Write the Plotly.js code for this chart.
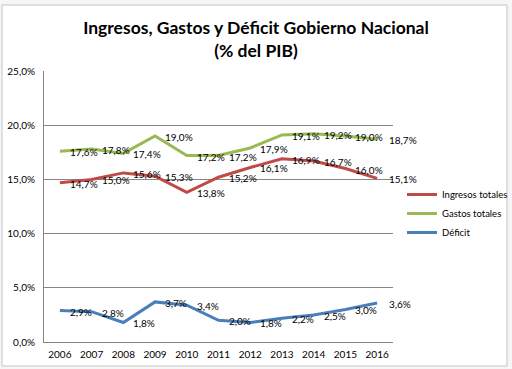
<!DOCTYPE html>
<html>
<head>
<meta charset="utf-8">
<script src="https://cdn.plot.ly/plotly-3.0.1.min.js"></script>
<style>html,body{margin:0;padding:0;background:#fff;}#chart{width:512px;height:369px;}</style>
</head>
<body>
<div id="chart"></div>
<script>
var years = ['2006','2007','2008','2009','2010','2011','2012','2013','2014','2015','2016'];
var ingresos = [14.7, 15.0, 15.6, 15.3, 13.8, 15.2, 16.1, 16.9, 16.7, 16.0, 15.1];
var gastos = [17.6, 17.8, 17.4, 19.0, 17.2, 17.2, 17.9, 19.1, 19.2, 19.0, 18.7];
var deficit = [2.9, 2.8, 1.8, 3.7, 3.4, 2.0, 1.8, 2.2, 2.5, 3.0, 3.6];
var names = ['Ingresos totales', 'Gastos totales', 'Déficit'];
var colors = ['#BE4B48', '#98B954', '#4A7EBB'];
var series = [ingresos, gastos, deficit];

var font = 'Lato, "Liberation Sans", Arial, sans-serif';
var data = series.map(function (y, i) {
  return {
    x: years, y: y, name: names[i], type: 'scatter', mode: 'lines',
    line: {color: colors[i], width: 3}, hoverinfo: 'skip'
  };
});

function fmt(v) { return v.toFixed(1).replace('.', ',') + '%'; }
var annotations = [];
series.forEach(function (y) {
  y.forEach(function (v, j) {
    annotations.push({
      x: j, y: v, xref: 'x', yref: 'y', text: fmt(v),
      showarrow: false, xanchor: 'left', yanchor: 'middle',
      xshift: j === years.length - 1 ? 10 : 8, yshift: -1,
      font: {family: font, size: 10, color: '#000'}
    });
  });
});

var layout = {
  width: 512, height: 369,
  separators: ',.',
  margin: {l: 44, r: 119, t: 71, b: 27, autoexpand: false},
  paper_bgcolor: '#f6f6f6', plot_bgcolor: '#ffffff',
  font: {family: font, size: 10, color: '#000'},
  title: {
    text: 'Ingresos, Gastos y Déficit Gobierno Nacional<br>(% del PIB)',
    font: {family: font, size: 17.5, color: '#000', weight: 'bold'},
    x: 0.5, xref: 'container', xanchor: 'center',
    y: 1 - 34/369, yref: 'container', yanchor: 'top'
  },
  xaxis: {
    type: 'category', range: [-0.5, 10.5],
    showgrid: false, showline: true, linecolor: '#868686', linewidth: 1,
    ticks: 'outside', ticklen: 3, tickcolor: 'rgba(0,0,0,0)',
    tickfont: {family: font, size: 10, color: '#000'}, fixedrange: true
  },
  yaxis: {
    range: [0, 25], dtick: 5, tickformat: '.1f', ticksuffix: '%',
    showgrid: true, gridcolor: '#868686', gridwidth: 1,
    showline: true, linecolor: '#868686', linewidth: 1, zeroline: false,
    ticks: 'outside', ticklen: 6, tickcolor: 'rgba(0,0,0,0)',
    tickfont: {family: font, size: 10, color: '#000'}, fixedrange: true
  },
  legend: {
    xref: 'container', yref: 'container',
    x: 402/512, xanchor: 'left', y: 1 - 180/369, yanchor: 'top',
    font: {family: font, size: 9.5, color: '#000'},
    bgcolor: 'rgba(0,0,0,0)', itemwidth: 30
  },
  annotations: annotations,
  shapes: [{
    type: 'rect', xref: 'paper', yref: 'paper', layer: 'below',
    x0: (2-44)/349, x1: (507-44)/349, y0: (342-366)/271, y1: (342-5)/271,
    line: {color: '#c4c4c4', width: 1}, fillcolor: '#ffffff'
  }],
  showlegend: true
};
Plotly.newPlot('chart', data, layout, {displayModeBar: false, staticPlot: true});
</script>
</body>
</html>
